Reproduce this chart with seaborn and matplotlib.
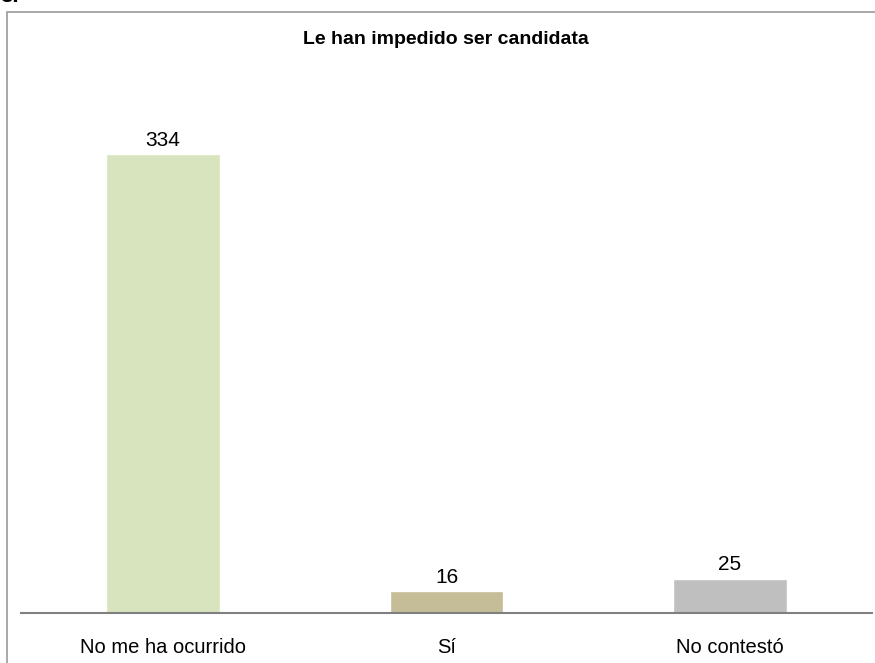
import matplotlib
matplotlib.use('Agg')
import matplotlib.pyplot as plt
import seaborn as sns
import pandas as pd
from matplotlib.patches import Rectangle

categories = ['No me ha ocurrido', 'Sí', 'No contestó']
values = [334, 16, 25]
colors = ['#D7E4BD', '#C4BD97', '#BFBFBF']
title = 'Le han impedido ser candidata'

df = pd.DataFrame({'respuesta': categories, 'total': values})

sns.set_style('white')
plt.rcParams['font.family'] = ['Liberation Sans', 'DejaVu Sans']

fig = plt.figure(figsize=(8.75, 6.63), dpi=100)
ax = fig.add_axes([0.0243, 0.0754, 0.972, 0.8296])

sns.barplot(data=df, x='respuesta', y='total', hue='respuesta',
            palette=colors, width=0.4, legend=False, ax=ax, saturation=1)

for c in ax.containers:
    ax.bar_label(c, fontsize=15, padding=3, color='black')

ax.set_xlim(-0.5, 2.5)
ax.set_ylim(0, 400)
ax.set_xlabel('')
ax.set_ylabel('')
ax.set_yticks([])
ax.tick_params(axis='x', length=0, labelsize=14.5, pad=18, colors='black')
for s in ['top', 'left', 'right']:
    ax.spines[s].set_visible(False)
ax.spines['bottom'].set_color('#808080')
ax.spines['bottom'].set_linewidth(1.5)

fig.text(0.51, 0.941, title, ha='center', va='center', fontsize=14,
         fontweight='bold', color='black')

# outer chart frame, cut by the figure edge
fig.patches.append(Rectangle((7 / 875, -0.1), 1.2, (663 - 12) / 663 + 0.1,
                             transform=fig.transFigure, fill=False,
                             edgecolor='#999999', linewidth=1.2))
fig.text(0.0, 1.005, '3.', ha='left', va='center', fontsize=16,
         fontweight='bold', color='black')

fig.savefig('out.png', dpi=100)
